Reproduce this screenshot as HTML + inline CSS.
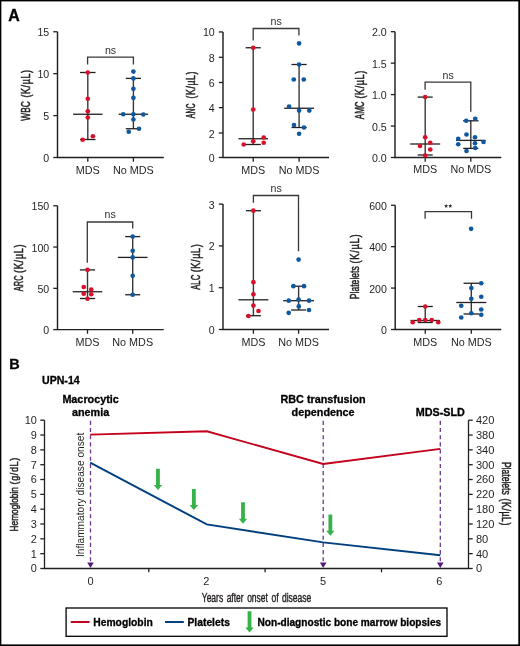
<!DOCTYPE html><html><head><meta charset="utf-8"><style>html,body{margin:0;padding:0;background:#fff;}svg{display:block;will-change:transform;font-family:"Liberation Sans",sans-serif;}</style></head><body>
<svg width="520" height="646" viewBox="0 0 520 646" font-family="Liberation Sans, sans-serif">
<rect x="0" y="0" width="520" height="646" fill="#fff"/>
<rect x="0" y="0" width="520" height="1.4" fill="#000"/><rect x="0" y="0" width="1.35" height="646" fill="#000"/><rect x="518.3" y="0" width="1.7" height="646" fill="#000"/><rect x="0" y="644.4" width="520" height="1.6" fill="#000"/>
<text x="8.3" y="20.8" font-size="15.9" text-anchor="start" font-weight="bold" fill="#000"  stroke="#000" stroke-width="0.3">A</text>
<text x="9.2" y="369.4" font-size="14.5" text-anchor="start" font-weight="bold" fill="#000"  stroke="#000" stroke-width="0.3">B</text>
<line x1="57.5" y1="31.75500000000001" x2="57.5" y2="157.5" stroke="#231f20" stroke-width="1.45" />
<line x1="56.78" y1="157.5" x2="163.75" y2="157.5" stroke="#231f20" stroke-width="1.45" />
<line x1="53.3" y1="157.5" x2="57.5" y2="157.5" stroke="#231f20" stroke-width="1.3" />
<text x="49.2" y="162.0" font-size="10.6" text-anchor="end" font-weight="normal" fill="#231f20" >0</text>
<line x1="53.3" y1="115.58500000000001" x2="57.5" y2="115.58500000000001" stroke="#231f20" stroke-width="1.3" />
<text x="49.2" y="120.08500000000001" font-size="10.6" text-anchor="end" font-weight="normal" fill="#231f20" >5</text>
<line x1="53.3" y1="73.67000000000002" x2="57.5" y2="73.67000000000002" stroke="#231f20" stroke-width="1.3" />
<text x="49.2" y="78.17000000000002" font-size="10.6" text-anchor="end" font-weight="normal" fill="#231f20" >10</text>
<line x1="53.3" y1="31.75500000000001" x2="57.5" y2="31.75500000000001" stroke="#231f20" stroke-width="1.3" />
<text x="49.2" y="36.25500000000001" font-size="10.6" text-anchor="end" font-weight="normal" fill="#231f20" >15</text>
<line x1="87.8" y1="157.5" x2="87.8" y2="161.7" stroke="#231f20" stroke-width="1.3" />
<line x1="133.4" y1="157.5" x2="133.4" y2="161.7" stroke="#231f20" stroke-width="1.3" />
<text x="87.8" y="173.8" font-size="10.8" text-anchor="middle" font-weight="normal" fill="#231f20" >MDS</text>
<text x="133.4" y="173.8" font-size="10.8" text-anchor="middle" font-weight="normal" fill="#231f20" >No MDS</text>
<text transform="translate(30.0,120.7) rotate(-90)" font-size="12" fill="#231f20" stroke="#231f20" stroke-width="0.5" textLength="19.40" lengthAdjust="spacingAndGlyphs">WBC</text>
<text transform="translate(30.0,97.5) rotate(-90)" font-size="12" fill="#231f20" stroke="#231f20" stroke-width="0.5" letter-spacing="0.8" textLength="28.00" lengthAdjust="spacingAndGlyphs">(K/µL)</text>
<polyline points="87.6,64.5 87.6,57.1 133.4,57.1 133.4,64.5" fill="none" stroke="#383838" stroke-width="1.3"/>
<text x="110.5" y="53.7" font-size="10.6" text-anchor="middle" font-weight="normal" fill="#2e2e2e" >ns</text>
<line x1="87.8" y1="72.5" x2="87.8" y2="139.5" stroke="#383838" stroke-width="1.4" />
<line x1="80.05" y1="72.5" x2="95.55" y2="72.5" stroke="#231f20" stroke-width="1.3" />
<line x1="73.05" y1="114.25" x2="102.55" y2="114.25" stroke="#231f20" stroke-width="1.3" />
<line x1="80.05" y1="139.5" x2="95.55" y2="139.5" stroke="#231f20" stroke-width="1.3" />
<circle cx="87.8" cy="72.5" r="2.35" fill="#d6112c"/>
<circle cx="87.8" cy="98.75" r="2.35" fill="#d6112c"/>
<circle cx="87.8" cy="111.25" r="2.35" fill="#d6112c"/>
<circle cx="87.8" cy="117.5" r="2.35" fill="#d6112c"/>
<circle cx="82.7" cy="139.75" r="2.35" fill="#d6112c"/>
<circle cx="92.9" cy="136.25" r="2.35" fill="#d6112c"/>
<line x1="133.4" y1="78.4" x2="133.4" y2="128.75" stroke="#383838" stroke-width="1.4" />
<line x1="125.80000000000001" y1="78.4" x2="141.0" y2="78.4" stroke="#231f20" stroke-width="1.3" />
<line x1="118.65" y1="114.25" x2="148.15" y2="114.25" stroke="#231f20" stroke-width="1.3" />
<line x1="125.80000000000001" y1="128.75" x2="141.0" y2="128.75" stroke="#231f20" stroke-width="1.3" />
<circle cx="133.4" cy="71.6" r="2.35" fill="#0f589d"/>
<circle cx="133.4" cy="78.4" r="2.35" fill="#0f589d"/>
<circle cx="133.4" cy="88.8" r="2.35" fill="#0f589d"/>
<circle cx="133.4" cy="97.8" r="2.35" fill="#0f589d"/>
<circle cx="123.25" cy="114.25" r="2.35" fill="#0f589d"/>
<circle cx="133.4" cy="114.25" r="2.35" fill="#0f589d"/>
<circle cx="143.25" cy="114.5" r="2.35" fill="#0f589d"/>
<circle cx="133.4" cy="119.5" r="2.35" fill="#0f589d"/>
<circle cx="128.75" cy="131.75" r="2.35" fill="#0f589d"/>
<circle cx="139" cy="128.75" r="2.35" fill="#0f589d"/>
<line x1="223" y1="31.96" x2="223" y2="157.45" stroke="#231f20" stroke-width="1.45" />
<line x1="222.28" y1="157.45" x2="329" y2="157.45" stroke="#231f20" stroke-width="1.45" />
<line x1="218.8" y1="157.45" x2="223" y2="157.45" stroke="#231f20" stroke-width="1.3" />
<text x="214.7" y="161.95" font-size="10.6" text-anchor="end" font-weight="normal" fill="#231f20" >0</text>
<line x1="218.8" y1="133.0" x2="223" y2="133.0" stroke="#231f20" stroke-width="1.3" />
<text x="214.7" y="137.5" font-size="10.6" text-anchor="end" font-weight="normal" fill="#231f20" >2</text>
<line x1="218.8" y1="107.65" x2="223" y2="107.65" stroke="#231f20" stroke-width="1.3" />
<text x="214.7" y="112.15" font-size="10.6" text-anchor="end" font-weight="normal" fill="#231f20" >4</text>
<line x1="218.8" y1="82.5" x2="223" y2="82.5" stroke="#231f20" stroke-width="1.3" />
<text x="214.7" y="87.0" font-size="10.6" text-anchor="end" font-weight="normal" fill="#231f20" >6</text>
<line x1="218.8" y1="57.3" x2="223" y2="57.3" stroke="#231f20" stroke-width="1.3" />
<text x="214.7" y="61.8" font-size="10.6" text-anchor="end" font-weight="normal" fill="#231f20" >8</text>
<line x1="218.8" y1="31.96" x2="223" y2="31.96" stroke="#231f20" stroke-width="1.3" />
<text x="214.7" y="36.46" font-size="10.6" text-anchor="end" font-weight="normal" fill="#231f20" >10</text>
<line x1="253.2" y1="157.45" x2="253.2" y2="161.64999999999998" stroke="#231f20" stroke-width="1.3" />
<line x1="299.1" y1="157.45" x2="299.1" y2="161.64999999999998" stroke="#231f20" stroke-width="1.3" />
<text x="253.2" y="173.8" font-size="10.8" text-anchor="middle" font-weight="normal" fill="#231f20" >MDS</text>
<text x="299.1" y="173.8" font-size="10.8" text-anchor="middle" font-weight="normal" fill="#231f20" >No MDS</text>
<text transform="translate(194.5,118.2) rotate(-90)" font-size="12" fill="#231f20" stroke="#231f20" stroke-width="0.5" textLength="14.70" lengthAdjust="spacingAndGlyphs">ANC</text>
<text transform="translate(194.5,98.5) rotate(-90)" font-size="12" fill="#231f20" stroke="#231f20" stroke-width="0.5" letter-spacing="0.8" textLength="27.40" lengthAdjust="spacingAndGlyphs">(K/µL)</text>
<polyline points="253.2,40.5 253.2,28.5 298.9,28.5 298.9,35.4" fill="none" stroke="#383838" stroke-width="1.3"/>
<text x="276.2" y="24.9" font-size="10.6" text-anchor="middle" font-weight="normal" fill="#2e2e2e" >ns</text>
<line x1="253.2" y1="47.75" x2="253.2" y2="144.5" stroke="#383838" stroke-width="1.4" />
<line x1="245.6" y1="47.75" x2="260.8" y2="47.75" stroke="#231f20" stroke-width="1.3" />
<line x1="238.45" y1="138.75" x2="267.95" y2="138.75" stroke="#231f20" stroke-width="1.3" />
<line x1="245.6" y1="144.5" x2="260.8" y2="144.5" stroke="#231f20" stroke-width="1.3" />
<circle cx="253.2" cy="47.75" r="2.35" fill="#d6112c"/>
<circle cx="253.2" cy="109.5" r="2.35" fill="#d6112c"/>
<circle cx="263.75" cy="137.5" r="2.35" fill="#d6112c"/>
<circle cx="253.2" cy="141.25" r="2.35" fill="#d6112c"/>
<circle cx="263.75" cy="142.75" r="2.35" fill="#d6112c"/>
<circle cx="243.75" cy="144.5" r="2.35" fill="#d6112c"/>
<line x1="299.1" y1="64.5" x2="299.1" y2="127.5" stroke="#383838" stroke-width="1.4" />
<line x1="291.5" y1="64.5" x2="306.70000000000005" y2="64.5" stroke="#231f20" stroke-width="1.3" />
<line x1="284.20000000000005" y1="108.25" x2="314.0" y2="108.25" stroke="#231f20" stroke-width="1.3" />
<line x1="291.5" y1="127.5" x2="306.70000000000005" y2="127.5" stroke="#231f20" stroke-width="1.3" />
<circle cx="299.1" cy="43.4" r="2.35" fill="#0f589d"/>
<circle cx="299.1" cy="64.5" r="2.35" fill="#0f589d"/>
<circle cx="293.75" cy="79.5" r="2.35" fill="#0f589d"/>
<circle cx="303.75" cy="79.5" r="2.35" fill="#0f589d"/>
<circle cx="289.1" cy="106.5" r="2.35" fill="#0f589d"/>
<circle cx="299.1" cy="110.6" r="2.35" fill="#0f589d"/>
<circle cx="309.3" cy="110.6" r="2.35" fill="#0f589d"/>
<circle cx="294" cy="125.1" r="2.35" fill="#0f589d"/>
<circle cx="304" cy="127.5" r="2.35" fill="#0f589d"/>
<circle cx="299.1" cy="133.75" r="2.35" fill="#0f589d"/>
<line x1="395" y1="31.700000000000003" x2="395" y2="157.5" stroke="#231f20" stroke-width="1.45" />
<line x1="394.28" y1="157.5" x2="501.25" y2="157.5" stroke="#231f20" stroke-width="1.45" />
<line x1="390.8" y1="157.5" x2="395" y2="157.5" stroke="#231f20" stroke-width="1.3" />
<text x="386.7" y="162.0" font-size="10.6" text-anchor="end" font-weight="normal" fill="#231f20" >0.0</text>
<line x1="390.8" y1="126.05" x2="395" y2="126.05" stroke="#231f20" stroke-width="1.3" />
<text x="386.7" y="130.55" font-size="10.6" text-anchor="end" font-weight="normal" fill="#231f20" >0.5</text>
<line x1="390.8" y1="94.6" x2="395" y2="94.6" stroke="#231f20" stroke-width="1.3" />
<text x="386.7" y="99.1" font-size="10.6" text-anchor="end" font-weight="normal" fill="#231f20" >1.0</text>
<line x1="390.8" y1="63.150000000000006" x2="395" y2="63.150000000000006" stroke="#231f20" stroke-width="1.3" />
<text x="386.7" y="67.65" font-size="10.6" text-anchor="end" font-weight="normal" fill="#231f20" >1.5</text>
<line x1="390.8" y1="31.700000000000003" x2="395" y2="31.700000000000003" stroke="#231f20" stroke-width="1.3" />
<text x="386.7" y="36.2" font-size="10.6" text-anchor="end" font-weight="normal" fill="#231f20" >2.0</text>
<line x1="425.2" y1="157.5" x2="425.2" y2="161.7" stroke="#231f20" stroke-width="1.3" />
<line x1="470.8" y1="157.5" x2="470.8" y2="161.7" stroke="#231f20" stroke-width="1.3" />
<text x="425.2" y="173.3" font-size="10.8" text-anchor="middle" font-weight="normal" fill="#231f20" >MDS</text>
<text x="470.8" y="173.3" font-size="10.8" text-anchor="middle" font-weight="normal" fill="#231f20" >No MDS</text>
<text transform="translate(364.0,119.2) rotate(-90)" font-size="12" fill="#231f20" stroke="#231f20" stroke-width="0.5" textLength="17.80" lengthAdjust="spacingAndGlyphs">AMC</text>
<text transform="translate(364.0,98.5) rotate(-90)" font-size="12" fill="#231f20" stroke="#231f20" stroke-width="0.5" letter-spacing="0.8" textLength="28.30" lengthAdjust="spacingAndGlyphs">(K/µL)</text>
<polyline points="425.1,89.8 425.1,82.15 470.8,82.15 470.8,111.7" fill="none" stroke="#383838" stroke-width="1.3"/>
<text x="448.2" y="79.1" font-size="10.6" text-anchor="middle" font-weight="normal" fill="#2e2e2e" >ns</text>
<line x1="425.2" y1="97.1" x2="425.2" y2="155" stroke="#383838" stroke-width="1.4" />
<line x1="417.7" y1="97.1" x2="432.7" y2="97.1" stroke="#231f20" stroke-width="1.3" />
<line x1="410.2" y1="144" x2="440.2" y2="144" stroke="#231f20" stroke-width="1.3" />
<line x1="417.7" y1="155" x2="432.7" y2="155" stroke="#231f20" stroke-width="1.3" />
<circle cx="425.2" cy="97.1" r="2.35" fill="#d6112c"/>
<circle cx="425.2" cy="137.25" r="2.35" fill="#d6112c"/>
<circle cx="430.25" cy="142.75" r="2.35" fill="#d6112c"/>
<circle cx="420" cy="146" r="2.35" fill="#d6112c"/>
<circle cx="430.25" cy="149.5" r="2.35" fill="#d6112c"/>
<circle cx="425.2" cy="155.5" r="2.35" fill="#d6112c"/>
<line x1="470.8" y1="120.8" x2="470.8" y2="148.4" stroke="#383838" stroke-width="1.4" />
<line x1="463.05" y1="120.8" x2="478.55" y2="120.8" stroke="#231f20" stroke-width="1.3" />
<line x1="456.05" y1="140.4" x2="485.55" y2="140.4" stroke="#231f20" stroke-width="1.3" />
<line x1="463.2" y1="148.4" x2="478.40000000000003" y2="148.4" stroke="#231f20" stroke-width="1.3" />
<circle cx="466.25" cy="120.75" r="2.35" fill="#0f589d"/>
<circle cx="475.25" cy="118.75" r="2.35" fill="#0f589d"/>
<circle cx="466.5" cy="134.5" r="2.35" fill="#0f589d"/>
<circle cx="458.25" cy="138.75" r="2.35" fill="#0f589d"/>
<circle cx="475" cy="137.25" r="2.35" fill="#0f589d"/>
<circle cx="458.25" cy="144.25" r="2.35" fill="#0f589d"/>
<circle cx="483.5" cy="142" r="2.35" fill="#0f589d"/>
<circle cx="475" cy="143.25" r="2.35" fill="#0f589d"/>
<circle cx="475.25" cy="148" r="2.35" fill="#0f589d"/>
<circle cx="466.5" cy="151" r="2.35" fill="#0f589d"/>
<line x1="57.5" y1="205.77500000000003" x2="57.5" y2="329.6" stroke="#231f20" stroke-width="1.45" />
<line x1="56.78" y1="329.6" x2="163.75" y2="329.6" stroke="#231f20" stroke-width="1.45" />
<line x1="53.3" y1="329.6" x2="57.5" y2="329.6" stroke="#231f20" stroke-width="1.3" />
<text x="49.2" y="334.1" font-size="10.6" text-anchor="end" font-weight="normal" fill="#231f20" >0</text>
<line x1="53.3" y1="288.32500000000005" x2="57.5" y2="288.32500000000005" stroke="#231f20" stroke-width="1.3" />
<text x="49.2" y="292.82500000000005" font-size="10.6" text-anchor="end" font-weight="normal" fill="#231f20" >50</text>
<line x1="53.3" y1="247.05" x2="57.5" y2="247.05" stroke="#231f20" stroke-width="1.3" />
<text x="49.2" y="251.55" font-size="10.6" text-anchor="end" font-weight="normal" fill="#231f20" >100</text>
<line x1="53.3" y1="205.77500000000003" x2="57.5" y2="205.77500000000003" stroke="#231f20" stroke-width="1.3" />
<text x="49.2" y="210.27500000000003" font-size="10.6" text-anchor="end" font-weight="normal" fill="#231f20" >150</text>
<line x1="87.5" y1="329.6" x2="87.5" y2="333.8" stroke="#231f20" stroke-width="1.3" />
<line x1="132.7" y1="329.6" x2="132.7" y2="333.8" stroke="#231f20" stroke-width="1.3" />
<text x="87.5" y="345.6" font-size="10.8" text-anchor="middle" font-weight="normal" fill="#231f20" >MDS</text>
<text x="132.7" y="345.6" font-size="10.8" text-anchor="middle" font-weight="normal" fill="#231f20" >No MDS</text>
<text transform="translate(23.0,291.2) rotate(-90)" font-size="12" fill="#231f20" stroke="#231f20" stroke-width="0.5" textLength="15.70" lengthAdjust="spacingAndGlyphs">ARC</text>
<text transform="translate(23.0,273.0) rotate(-90)" font-size="12" fill="#231f20" stroke="#231f20" stroke-width="0.5" letter-spacing="0.8" textLength="29.10" lengthAdjust="spacingAndGlyphs">(K/µL)</text>
<polyline points="87.3,262.7 87.3,222 132.7,222 132.7,228.5" fill="none" stroke="#383838" stroke-width="1.3"/>
<text x="110.1" y="218.2" font-size="10.6" text-anchor="middle" font-weight="normal" fill="#2e2e2e" >ns</text>
<line x1="87.5" y1="269.9" x2="87.5" y2="298.5" stroke="#383838" stroke-width="1.4" />
<line x1="79.9" y1="269.9" x2="95.1" y2="269.9" stroke="#231f20" stroke-width="1.3" />
<line x1="72.75" y1="291.75" x2="102.25" y2="291.75" stroke="#231f20" stroke-width="1.3" />
<line x1="79.9" y1="298.5" x2="95.1" y2="298.5" stroke="#231f20" stroke-width="1.3" />
<circle cx="87.5" cy="269.8" r="2.35" fill="#d6112c"/>
<circle cx="83.75" cy="287" r="2.35" fill="#d6112c"/>
<circle cx="91.25" cy="289.5" r="2.35" fill="#d6112c"/>
<circle cx="83.75" cy="293.75" r="2.35" fill="#d6112c"/>
<circle cx="91.25" cy="294.25" r="2.35" fill="#d6112c"/>
<circle cx="87.5" cy="298.75" r="2.35" fill="#d6112c"/>
<line x1="132.7" y1="236.6" x2="132.7" y2="294.75" stroke="#383838" stroke-width="1.4" />
<line x1="125.19999999999999" y1="236.6" x2="140.2" y2="236.6" stroke="#231f20" stroke-width="1.3" />
<line x1="117.85" y1="257.4" x2="147.54999999999998" y2="257.4" stroke="#231f20" stroke-width="1.3" />
<line x1="125.19999999999999" y1="294.75" x2="140.2" y2="294.75" stroke="#231f20" stroke-width="1.3" />
<circle cx="132.7" cy="236.6" r="2.35" fill="#0f589d"/>
<circle cx="132.7" cy="250.8" r="2.35" fill="#0f589d"/>
<circle cx="132.7" cy="257.4" r="2.35" fill="#0f589d"/>
<circle cx="132.7" cy="275.75" r="2.35" fill="#0f589d"/>
<circle cx="132.7" cy="294.75" r="2.35" fill="#0f589d"/>
<line x1="223" y1="204.10000000000002" x2="223" y2="329.5" stroke="#231f20" stroke-width="1.45" />
<line x1="222.28" y1="329.5" x2="329" y2="329.5" stroke="#231f20" stroke-width="1.45" />
<line x1="218.8" y1="329.5" x2="223" y2="329.5" stroke="#231f20" stroke-width="1.3" />
<text x="214.7" y="334.0" font-size="10.6" text-anchor="end" font-weight="normal" fill="#231f20" >0</text>
<line x1="218.8" y1="287.7" x2="223" y2="287.7" stroke="#231f20" stroke-width="1.3" />
<text x="214.7" y="292.2" font-size="10.6" text-anchor="end" font-weight="normal" fill="#231f20" >1</text>
<line x1="218.8" y1="245.9" x2="223" y2="245.9" stroke="#231f20" stroke-width="1.3" />
<text x="214.7" y="250.4" font-size="10.6" text-anchor="end" font-weight="normal" fill="#231f20" >2</text>
<line x1="218.8" y1="204.10000000000002" x2="223" y2="204.10000000000002" stroke="#231f20" stroke-width="1.3" />
<text x="214.7" y="208.60000000000002" font-size="10.6" text-anchor="end" font-weight="normal" fill="#231f20" >3</text>
<line x1="253.4" y1="329.5" x2="253.4" y2="333.7" stroke="#231f20" stroke-width="1.3" />
<line x1="298.6" y1="329.5" x2="298.6" y2="333.7" stroke="#231f20" stroke-width="1.3" />
<text x="253.4" y="345.8" font-size="10.8" text-anchor="middle" font-weight="normal" fill="#231f20" >MDS</text>
<text x="298.6" y="345.8" font-size="10.8" text-anchor="middle" font-weight="normal" fill="#231f20" >No MDS</text>
<text transform="translate(200.1,289.8) rotate(-90)" font-size="12" fill="#231f20" stroke="#231f20" stroke-width="0.5" textLength="15.00" lengthAdjust="spacingAndGlyphs">ALC</text>
<text transform="translate(200.1,272.3) rotate(-90)" font-size="12" fill="#231f20" stroke="#231f20" stroke-width="0.5" letter-spacing="0.8" textLength="28.70" lengthAdjust="spacingAndGlyphs">(K/µL)</text>
<polyline points="253.4,202.7 253.4,195.5 298.5,195.5 298.5,251.2" fill="none" stroke="#383838" stroke-width="1.3"/>
<text x="276.2" y="191.9" font-size="10.6" text-anchor="middle" font-weight="normal" fill="#2e2e2e" >ns</text>
<line x1="253.4" y1="210.7" x2="253.4" y2="315.7" stroke="#383838" stroke-width="1.4" />
<line x1="245.9" y1="210.7" x2="260.9" y2="210.7" stroke="#231f20" stroke-width="1.3" />
<line x1="238.4" y1="299.8" x2="268.4" y2="299.8" stroke="#231f20" stroke-width="1.3" />
<line x1="245.9" y1="315.7" x2="260.9" y2="315.7" stroke="#231f20" stroke-width="1.3" />
<circle cx="253.4" cy="210.7" r="2.35" fill="#d6112c"/>
<circle cx="253.4" cy="282.2" r="2.35" fill="#d6112c"/>
<circle cx="253.4" cy="294.3" r="2.35" fill="#d6112c"/>
<circle cx="253.4" cy="305.6" r="2.35" fill="#d6112c"/>
<circle cx="258.5" cy="311" r="2.35" fill="#d6112c"/>
<circle cx="248.4" cy="316" r="2.35" fill="#d6112c"/>
<line x1="298.6" y1="286.2" x2="298.6" y2="310" stroke="#383838" stroke-width="1.4" />
<line x1="291.1" y1="286.2" x2="306.1" y2="286.2" stroke="#231f20" stroke-width="1.3" />
<line x1="283.20000000000005" y1="300.7" x2="314.0" y2="300.7" stroke="#231f20" stroke-width="1.3" />
<line x1="291.1" y1="310" x2="306.1" y2="310" stroke="#231f20" stroke-width="1.3" />
<circle cx="298.6" cy="259.6" r="2.35" fill="#0f589d"/>
<circle cx="293.4" cy="286.2" r="2.35" fill="#0f589d"/>
<circle cx="304" cy="286.2" r="2.35" fill="#0f589d"/>
<circle cx="288.7" cy="300.7" r="2.35" fill="#0f589d"/>
<circle cx="298.6" cy="299.5" r="2.35" fill="#0f589d"/>
<circle cx="309" cy="300.7" r="2.35" fill="#0f589d"/>
<circle cx="298.8" cy="306.4" r="2.35" fill="#0f589d"/>
<circle cx="309" cy="310" r="2.35" fill="#0f589d"/>
<circle cx="288.7" cy="312.8" r="2.35" fill="#0f589d"/>
<line x1="395.2" y1="205.24" x2="395.2" y2="329.5" stroke="#231f20" stroke-width="1.45" />
<line x1="394.47999999999996" y1="329.5" x2="501.25" y2="329.5" stroke="#231f20" stroke-width="1.45" />
<line x1="391.0" y1="329.5" x2="395.2" y2="329.5" stroke="#231f20" stroke-width="1.3" />
<text x="386.9" y="334.0" font-size="10.6" text-anchor="end" font-weight="normal" fill="#231f20" >0</text>
<line x1="391.0" y1="288.08" x2="395.2" y2="288.08" stroke="#231f20" stroke-width="1.3" />
<text x="386.9" y="292.58" font-size="10.6" text-anchor="end" font-weight="normal" fill="#231f20" >200</text>
<line x1="391.0" y1="246.66" x2="395.2" y2="246.66" stroke="#231f20" stroke-width="1.3" />
<text x="386.9" y="251.16" font-size="10.6" text-anchor="end" font-weight="normal" fill="#231f20" >400</text>
<line x1="391.0" y1="205.24" x2="395.2" y2="205.24" stroke="#231f20" stroke-width="1.3" />
<text x="386.9" y="209.74" font-size="10.6" text-anchor="end" font-weight="normal" fill="#231f20" >600</text>
<line x1="425.25" y1="329.5" x2="425.25" y2="333.7" stroke="#231f20" stroke-width="1.3" />
<line x1="471.3" y1="329.5" x2="471.3" y2="333.7" stroke="#231f20" stroke-width="1.3" />
<text x="425.25" y="345.8" font-size="10.8" text-anchor="middle" font-weight="normal" fill="#231f20" >MDS</text>
<text x="471.3" y="345.8" font-size="10.8" text-anchor="middle" font-weight="normal" fill="#231f20" >No MDS</text>
<text transform="translate(359.4,299.2) rotate(-90)" font-size="12" fill="#231f20" stroke="#231f20" stroke-width="0.5" textLength="33.00" lengthAdjust="spacingAndGlyphs">Platelets</text>
<text transform="translate(359.4,263.4) rotate(-90)" font-size="12" fill="#231f20" stroke="#231f20" stroke-width="0.5" letter-spacing="0.8" textLength="29.60" lengthAdjust="spacingAndGlyphs">(K/µL)</text>
<polyline points="425.1,218.8 425.1,211.6 471.5,211.6 471.5,218.8" fill="none" stroke="#383838" stroke-width="1.3"/>
<polygon points="446.15,203.90 446.71,205.23 448.15,205.35 447.05,206.29 447.38,207.70 446.15,206.95 444.92,207.70 445.25,206.29 444.15,205.35 445.59,205.23" fill="#222"/>
<polygon points="450.25,203.90 450.81,205.23 452.25,205.35 451.15,206.29 451.48,207.70 450.25,206.95 449.02,207.70 449.35,206.29 448.25,205.35 449.69,205.23" fill="#222"/>
<line x1="425.25" y1="306.5" x2="425.25" y2="322.5" stroke="#383838" stroke-width="1.4" />
<line x1="417.75" y1="306.5" x2="432.75" y2="306.5" stroke="#231f20" stroke-width="1.3" />
<line x1="410.5" y1="320.5" x2="440.0" y2="320.5" stroke="#231f20" stroke-width="1.3" />
<line x1="417.75" y1="322.5" x2="432.75" y2="322.5" stroke="#231f20" stroke-width="1.3" />
<circle cx="425.25" cy="306.5" r="2.35" fill="#d6112c"/>
<circle cx="412.75" cy="322.25" r="2.35" fill="#d6112c"/>
<circle cx="419.25" cy="320" r="2.35" fill="#d6112c"/>
<circle cx="425.25" cy="320" r="2.35" fill="#d6112c"/>
<circle cx="431.75" cy="320" r="2.35" fill="#d6112c"/>
<circle cx="438.25" cy="322.25" r="2.35" fill="#d6112c"/>
<line x1="471.3" y1="283.25" x2="471.3" y2="314" stroke="#383838" stroke-width="1.4" />
<line x1="463.55" y1="283.25" x2="479.05" y2="283.25" stroke="#231f20" stroke-width="1.3" />
<line x1="456.3" y1="302.5" x2="486.3" y2="302.5" stroke="#231f20" stroke-width="1.3" />
<line x1="463.55" y1="314" x2="479.05" y2="314" stroke="#231f20" stroke-width="1.3" />
<circle cx="471.1" cy="228.8" r="2.35" fill="#0f589d"/>
<circle cx="481.25" cy="283.25" r="2.35" fill="#0f589d"/>
<circle cx="471.3" cy="288" r="2.35" fill="#0f589d"/>
<circle cx="481.25" cy="296.75" r="2.35" fill="#0f589d"/>
<circle cx="471.3" cy="298.75" r="2.35" fill="#0f589d"/>
<circle cx="461.25" cy="305.75" r="2.35" fill="#0f589d"/>
<circle cx="481.25" cy="309.5" r="2.35" fill="#0f589d"/>
<circle cx="471.3" cy="313.25" r="2.35" fill="#0f589d"/>
<circle cx="481.25" cy="314.75" r="2.35" fill="#0f589d"/>
<circle cx="461.25" cy="317.5" r="2.35" fill="#0f589d"/>
<text x="42" y="384.3" font-size="10.6" text-anchor="start" font-weight="bold" fill="#000"  stroke="#000" stroke-width="0.3">UPN-14</text>
<text x="90.6" y="403.2" font-size="10.8" text-anchor="middle" font-weight="bold" fill="#000"  stroke="#000" stroke-width="0.3">Macrocytic</text>
<text x="90.6" y="415.6" font-size="10.8" text-anchor="middle" font-weight="bold" fill="#000"  stroke="#000" stroke-width="0.3">anemia</text>
<text x="323.1" y="403.2" font-size="10.8" text-anchor="middle" font-weight="bold" fill="#000"  stroke="#000" stroke-width="0.3">RBC transfusion</text>
<text x="323.1" y="415.6" font-size="10.8" text-anchor="middle" font-weight="bold" fill="#000"  stroke="#000" stroke-width="0.3">dependence</text>
<text x="440.3" y="415.7" font-size="10.8" text-anchor="middle" font-weight="bold" fill="#000"  stroke="#000" stroke-width="0.3">MDS-SLD</text>
<line x1="44.5" y1="420.2" x2="44.5" y2="568.5" stroke="#231f20" stroke-width="1.3" />
<line x1="468.5" y1="420.2" x2="468.5" y2="568.5" stroke="#231f20" stroke-width="1.3" />
<line x1="43.85" y1="568.5" x2="469.15" y2="568.5" stroke="#231f20" stroke-width="1.3" />
<line x1="40.3" y1="568.5" x2="44.5" y2="568.5" stroke="#231f20" stroke-width="1.3" />
<text x="36.9" y="572.4" font-size="10.9" text-anchor="end" font-weight="normal" fill="#231f20" >0</text>
<line x1="468.5" y1="568.5" x2="472.7" y2="568.5" stroke="#231f20" stroke-width="1.3" />
<line x1="40.3" y1="553.67" x2="44.5" y2="553.67" stroke="#231f20" stroke-width="1.3" />
<text x="36.9" y="557.5699999999999" font-size="10.9" text-anchor="end" font-weight="normal" fill="#231f20" >1</text>
<line x1="468.5" y1="553.67" x2="472.7" y2="553.67" stroke="#231f20" stroke-width="1.3" />
<line x1="40.3" y1="538.84" x2="44.5" y2="538.84" stroke="#231f20" stroke-width="1.3" />
<text x="36.9" y="542.74" font-size="10.9" text-anchor="end" font-weight="normal" fill="#231f20" >2</text>
<line x1="468.5" y1="538.84" x2="472.7" y2="538.84" stroke="#231f20" stroke-width="1.3" />
<line x1="40.3" y1="524.01" x2="44.5" y2="524.01" stroke="#231f20" stroke-width="1.3" />
<text x="36.9" y="527.91" font-size="10.9" text-anchor="end" font-weight="normal" fill="#231f20" >3</text>
<line x1="468.5" y1="524.01" x2="472.7" y2="524.01" stroke="#231f20" stroke-width="1.3" />
<line x1="40.3" y1="509.18" x2="44.5" y2="509.18" stroke="#231f20" stroke-width="1.3" />
<text x="36.9" y="513.08" font-size="10.9" text-anchor="end" font-weight="normal" fill="#231f20" >4</text>
<line x1="468.5" y1="509.18" x2="472.7" y2="509.18" stroke="#231f20" stroke-width="1.3" />
<line x1="40.3" y1="494.35" x2="44.5" y2="494.35" stroke="#231f20" stroke-width="1.3" />
<text x="36.9" y="498.25" font-size="10.9" text-anchor="end" font-weight="normal" fill="#231f20" >5</text>
<line x1="468.5" y1="494.35" x2="472.7" y2="494.35" stroke="#231f20" stroke-width="1.3" />
<line x1="40.3" y1="479.52" x2="44.5" y2="479.52" stroke="#231f20" stroke-width="1.3" />
<text x="36.9" y="483.41999999999996" font-size="10.9" text-anchor="end" font-weight="normal" fill="#231f20" >6</text>
<line x1="468.5" y1="479.52" x2="472.7" y2="479.52" stroke="#231f20" stroke-width="1.3" />
<line x1="40.3" y1="464.69" x2="44.5" y2="464.69" stroke="#231f20" stroke-width="1.3" />
<text x="36.9" y="468.59" font-size="10.9" text-anchor="end" font-weight="normal" fill="#231f20" >7</text>
<line x1="468.5" y1="464.69" x2="472.7" y2="464.69" stroke="#231f20" stroke-width="1.3" />
<line x1="40.3" y1="449.86" x2="44.5" y2="449.86" stroke="#231f20" stroke-width="1.3" />
<text x="36.9" y="453.76" font-size="10.9" text-anchor="end" font-weight="normal" fill="#231f20" >8</text>
<line x1="468.5" y1="449.86" x2="472.7" y2="449.86" stroke="#231f20" stroke-width="1.3" />
<line x1="40.3" y1="435.03" x2="44.5" y2="435.03" stroke="#231f20" stroke-width="1.3" />
<text x="36.9" y="438.92999999999995" font-size="10.9" text-anchor="end" font-weight="normal" fill="#231f20" >9</text>
<line x1="468.5" y1="435.03" x2="472.7" y2="435.03" stroke="#231f20" stroke-width="1.3" />
<line x1="40.3" y1="420.2" x2="44.5" y2="420.2" stroke="#231f20" stroke-width="1.3" />
<text x="36.9" y="424.09999999999997" font-size="10.9" text-anchor="end" font-weight="normal" fill="#231f20" >10</text>
<line x1="468.5" y1="420.2" x2="472.7" y2="420.2" stroke="#231f20" stroke-width="1.3" />
<text x="475.9" y="572.4" font-size="11.1" text-anchor="start" font-weight="normal" fill="#231f20" >0</text>
<text x="475.9" y="557.5699999999999" font-size="11.1" text-anchor="start" font-weight="normal" fill="#231f20" >40</text>
<text x="475.9" y="542.74" font-size="11.1" text-anchor="start" font-weight="normal" fill="#231f20" >80</text>
<text x="475.9" y="527.91" font-size="11.1" text-anchor="start" font-weight="normal" fill="#231f20" >120</text>
<text x="475.9" y="513.08" font-size="11.1" text-anchor="start" font-weight="normal" fill="#231f20" >180</text>
<text x="475.9" y="498.25" font-size="11.1" text-anchor="start" font-weight="normal" fill="#231f20" >220</text>
<text x="475.9" y="483.41999999999996" font-size="11.1" text-anchor="start" font-weight="normal" fill="#231f20" >260</text>
<text x="475.9" y="468.59" font-size="11.1" text-anchor="start" font-weight="normal" fill="#231f20" >300</text>
<text x="475.9" y="453.76" font-size="11.1" text-anchor="start" font-weight="normal" fill="#231f20" >340</text>
<text x="475.9" y="438.92999999999995" font-size="11.1" text-anchor="start" font-weight="normal" fill="#231f20" >380</text>
<text x="475.9" y="424.09999999999997" font-size="11.1" text-anchor="start" font-weight="normal" fill="#231f20" >420</text>
<line x1="148.8" y1="568.5" x2="148.8" y2="572.3" stroke="#231f20" stroke-width="1.3" />
<line x1="265.1" y1="568.5" x2="265.1" y2="572.3" stroke="#231f20" stroke-width="1.3" />
<line x1="381.5" y1="568.5" x2="381.5" y2="572.3" stroke="#231f20" stroke-width="1.3" />
<text x="90.6" y="585.1" font-size="11" text-anchor="middle" font-weight="normal" fill="#231f20" >0</text>
<text x="206.3" y="585.1" font-size="11" text-anchor="middle" font-weight="normal" fill="#231f20" >2</text>
<text x="323.0" y="585.1" font-size="11" text-anchor="middle" font-weight="normal" fill="#231f20" >5</text>
<text x="439.2" y="585.1" font-size="11" text-anchor="middle" font-weight="normal" fill="#231f20" >6</text>
<text x="256.5" y="602.2" font-size="12" text-anchor="middle" font-weight="normal" fill="#231f20" textLength="109.5" lengthAdjust="spacingAndGlyphs" word-spacing="1.6" stroke="#231f20" stroke-width="0.4">Years after onset of disease</text>
<text transform="translate(17.5,531.5) rotate(-90)" font-size="11.2" fill="#231f20" stroke="#231f20" stroke-width="0.5" textLength="44.40" lengthAdjust="spacingAndGlyphs">Hemoglobin</text>
<text transform="translate(17.5,484.5) rotate(-90)" font-size="11.2" fill="#231f20" stroke="#231f20" stroke-width="0.5" letter-spacing="0.8" textLength="27.30" lengthAdjust="spacingAndGlyphs">(g/dL)</text>
<text transform="translate(501.7,461.9) rotate(90)" font-size="12" fill="#231f20" stroke="#231f20" stroke-width="0.5" textLength="32.90" lengthAdjust="spacingAndGlyphs">Platelets</text>
<text transform="translate(501.7,498.4) rotate(90)" font-size="12" fill="#231f20" stroke="#231f20" stroke-width="0.5" letter-spacing="0.8" textLength="27.70" lengthAdjust="spacingAndGlyphs">(K/µL)</text>
<text transform="translate(84.3,494.9) rotate(-90)" font-size="10.2" text-anchor="middle" fill="#231f20" textLength="124.4" lengthAdjust="spacingAndGlyphs">Inflammatory disease onset</text>
<line x1="90.5" y1="420.8" x2="90.5" y2="563.5" stroke="#6c3790" stroke-width="1.3" stroke-dasharray="4.1 3.08"/>
<polygon points="87.2,562.4 93.8,562.4 90.5,568" fill="#561a7c"/>
<line x1="323.2" y1="420.8" x2="323.2" y2="563.5" stroke="#6c3790" stroke-width="1.3" stroke-dasharray="4.1 3.08"/>
<polygon points="319.9,562.4 326.5,562.4 323.2,568" fill="#561a7c"/>
<line x1="440.3" y1="420.8" x2="440.3" y2="563.5" stroke="#6c3790" stroke-width="1.3" stroke-dasharray="4.1 3.08"/>
<polygon points="437.0,562.4 443.6,562.4 440.3,568" fill="#561a7c"/>
<polyline points="90.2,434.7 206.8,431.3 323.2,464.0 440.3,448.9" fill="none" stroke="#c3001e" stroke-width="1.85"/>
<polyline points="90.2,462.6 206.8,524.4 323.2,542.4 440.3,555.3" fill="none" stroke="#003f7e" stroke-width="1.95"/>
<polygon points="156.04999999999998,468.8 159.85,468.8 159.85,484.9 162.14999999999998,484.9 157.95,489.9 153.75,484.9 156.04999999999998,484.9" fill="#35b24a"/>
<polygon points="191.95,488.9 195.75,488.9 195.75,505.1 198.04999999999998,505.1 193.85,510.1 189.65,505.1 191.95,505.1" fill="#35b24a"/>
<polygon points="241.1,502.2 244.9,502.2 244.9,518.8 247.2,518.8 243.0,523.8 238.8,518.8 241.1,518.8" fill="#35b24a"/>
<polygon points="328.45000000000005,514.6 332.25,514.6 332.25,530.7 334.55,530.7 330.35,535.7 326.15000000000003,530.7 328.45000000000005,530.7" fill="#35b24a"/>
<rect x="66.1" y="608.0" width="380.9" height="28.3" fill="none" stroke="#000" stroke-width="1.3"/>
<line x1="70.8" y1="622" x2="89.6" y2="622" stroke="#c3001e" stroke-width="2" />
<text x="93.3" y="625.6" font-size="10.3" text-anchor="start" font-weight="bold" fill="#000"  stroke="#000" stroke-width="0.3">Hemoglobin</text>
<line x1="165" y1="622" x2="183.8" y2="622" stroke="#003f7e" stroke-width="2" />
<text x="187.5" y="625.6" font-size="10.3" text-anchor="start" font-weight="bold" fill="#000"  stroke="#000" stroke-width="0.3">Platelets</text>
<polygon points="247.6,611.2 251.4,611.2 251.4,627.5 253.7,627.5 249.5,632.5 245.3,627.5 247.6,627.5" fill="#35b24a"/>
<text x="257.5" y="625.6" font-size="10.12" text-anchor="start" font-weight="bold" fill="#000"  stroke="#000" stroke-width="0.3">Non-diagnostic bone marrow biopsies</text>
</svg></body></html>
